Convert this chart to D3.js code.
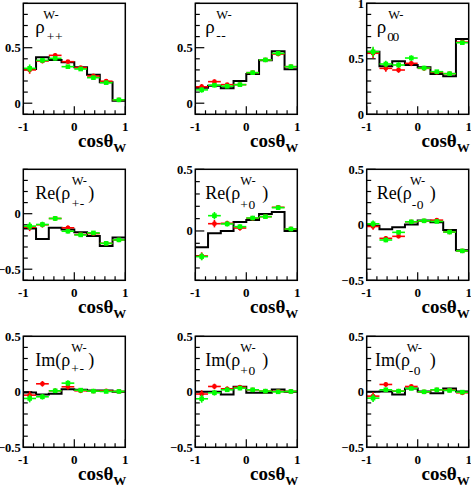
<!DOCTYPE html>
<html><head><meta charset="utf-8">
<script src="https://cdn.jsdelivr.net/npm/d3@7"></script>
<style>body{margin:0;background:#fff} svg{display:block}</style>
</head><body>
<script>
// ---------- data ----------
const binEdges   = [-1, -0.75, -0.5, -0.25, 0, 0.25, 0.5, 0.75, 1];
const binCenters = [-0.875, -0.625, -0.375, -0.125, 0.125, 0.375, 0.625, 0.875];
const xTickLabels = [-1, 0, 1];

// rho_{++}
const rhoPP_model = [0.308, 0.413, 0.389, 0.368, 0.323, 0.257, 0.189, 0.023];
const rhoPP_red   = [0.300, 0.380, 0.431, 0.374, 0.320, 0.245, 0.198, 0.030];
const rhoPP_green = [0.314, 0.386, 0.404, 0.329, 0.308, 0.230, 0.185, 0.030];
const rhoPP_err   = [0.035, 0.02, 0.02, 0.015, 0.015, 0.015, 0.015, 0.012];
// rho_{--}
const rhoMM_model = [0.140, 0.158, 0.135, 0.200, 0.263, 0.386, 0.467, 0.305];
const rhoMM_red   = [0.148, 0.194, 0.167, 0.167, 0.275, 0.390, 0.443, 0.329];
const rhoMM_green = [0.120, 0.162, 0.153, 0.167, 0.275, 0.390, 0.449, 0.329];
const rhoMM_err   = [0.025, 0.02, 0.015, 0.012, 0.012, 0.012, 0.012, 0.012];
// rho_{00}
const rho00_model = [0.564, 0.432, 0.477, 0.444, 0.423, 0.363, 0.342, 0.678];
const rho00_red   = [0.550, 0.414, 0.399, 0.459, 0.414, 0.378, 0.366, 0.650];
const rho00_green = [0.564, 0.453, 0.444, 0.507, 0.417, 0.384, 0.366, 0.645];
const rho00_err   = [0.045, 0.03, 0.025, 0.025, 0.02, 0.015, 0.012, 0.012];
// Re(rho_{+-})
const reRhoPM_model = [-0.134, -0.227, -0.127, -0.143, -0.167, -0.200, -0.291, -0.215];
const reRhoPM_red   = [-0.122, -0.100, -0.043, -0.127, -0.188, -0.179, -0.267, -0.236];
const reRhoPM_green = [-0.112, -0.097, -0.043, -0.158, -0.191, -0.173, -0.267, -0.236];
const reRhoPM_err   = [0.035, 0.025, 0.02, 0.02, 0.015, 0.012, 0.012, 0.01];
// Re(rho_{+0})
const reRhoP0_model = [-0.132, -0.019, 0.000, 0.073, 0.089, 0.138, 0.154, 0.000];
const reRhoP0_red   = [-0.203, 0.059, 0.062, 0.024, 0.103, 0.116, 0.192, 0.016];
const reRhoP0_green = [-0.208, 0.124, 0.057, 0.035, 0.105, 0.116, 0.189, 0.016];
const reRhoP0_err   = [0.03, 0.03, 0.02, 0.02, 0.015, 0.012, 0.012, 0.01];
// Re(rho_{-0})
const reRhoM0_model = [-0.009, -0.041, -0.021, 0.003, 0.039, 0.024, -0.047, -0.229];
const reRhoM0_red   = [-0.015, -0.122, -0.104, 0.027, 0.036, 0.042, -0.065, -0.235];
const reRhoM0_green = [0.009, -0.137, -0.068, 0.027, 0.036, 0.030, -0.065, -0.235];
const reRhoM0_err   = [0.03, 0.02, 0.015, 0.015, 0.012, 0.012, 0.01, 0.01];
// Im(rho_{+-})
const imRhoPM_model = [-0.006, -0.024, -0.018, 0.024, 0.018, 0.012, 0.012, 0.000];
const imRhoPM_red   = [-0.030, 0.072, 0.009, 0.045, 0.009, 0.006, 0.009, 0.003];
const imRhoPM_green = [-0.060, -0.045, 0.009, 0.078, 0.015, 0.006, 0.003, 0.003];
const imRhoPM_err   = [0.035, 0.025, 0.02, 0.025, 0.015, 0.012, 0.012, 0.01];
// Im(rho_{+0})
const imRhoP0_model = [0.000, 0.000, -0.025, 0.045, -0.008, -0.008, 0.020, 0.000];
const imRhoP0_red   = [-0.020, 0.048, 0.027, 0.042, 0.018, 0.006, 0.003, 0.003];
const imRhoP0_green = [-0.063, -0.009, 0.018, 0.033, 0.018, 0.006, 0.000, 0.003];
const imRhoP0_err   = [0.035, 0.025, 0.02, 0.02, 0.012, 0.01, 0.01, 0.01];
// Im(rho_{-0})
const imRhoM0_model = [0.000, 0.003, -0.024, 0.030, 0.003, -0.012, 0.030, 0.003];
const imRhoM0_red   = [-0.039, 0.066, 0.006, 0.048, 0.000, 0.018, 0.015, -0.009];
const imRhoM0_green = [-0.057, 0.018, 0.006, 0.030, 0.000, 0.018, 0.012, -0.003];
const imRhoM0_err   = [0.035, 0.02, 0.015, 0.015, 0.012, 0.01, 0.01, 0.01];

// y axis ranges and tick labels
const yDomains = [[-0.1,0.9],[-0.1,0.9],[0,1],[-0.6,0.4],[-0.4,0.5],[-0.5,0.5],[-0.5,0.5],[-0.5,0.5],[-0.5,0.5]];
const yTickLabels = [[0,0.5],[0,0.5],[0,0.5,1],[-0.5,0],[0,0.5],[-0.5,0,0.5],[-0.5,0,0.5],[-0.5,0,0.5],[-0.5,0,0.5]];

// title text pieces
const titleMain  = ["ρ","ρ","ρ","Re(ρ","Re(ρ","Re(ρ","Im(ρ","Im(ρ","Im(ρ"];
const titleSup   = ["W-","W-","W-","W-","W-","W-","W-","W-","W-"];
const titleSub   = ["++","--","00","+-","+0","-0","+-","+0","-0"];
const titleClose = ["","","",")",")",")",")",")",")"];

const models = [rhoPP_model, rhoMM_model, rho00_model, reRhoPM_model, reRhoP0_model, reRhoM0_model, imRhoPM_model, imRhoP0_model, imRhoM0_model];
const reds   = [rhoPP_red, rhoMM_red, rho00_red, reRhoPM_red, reRhoP0_red, reRhoM0_red, imRhoPM_red, imRhoP0_red, imRhoM0_red];
const greens = [rhoPP_green, rhoMM_green, rho00_green, reRhoPM_green, reRhoP0_green, reRhoM0_green, imRhoPM_green, imRhoP0_green, imRhoM0_green];
const errs   = [rhoPP_err, rhoMM_err, rho00_err, reRhoPM_err, reRhoP0_err, reRhoM0_err, imRhoPM_err, imRhoP0_err, imRhoM0_err];

// ---------- layout ----------
const colX = [23.3, 195.3, 366.7];
const rowY = [3.3, 169.3, 336.3];
const PW = 102, PH = 111;
const titlePos = [
  {mx:12, sx:20, bx:23.5, by:37.5, cx:0},
  {mx:10, sx:21, bx:21, by:37, cx:0},
  {mx:10, sx:21.5, bx:20.5, by:38, cx:0},
  {mx:12, sx:48.4, bx:48.4, by:39, cx:65},
  {mx:10, sx:45, bx:45, by:40, cx:67},
  {mx:10, sx:43.3, bx:45, by:40, cx:63},
  {mx:12, sx:48, bx:48, by:37, cx:65},
  {mx:10, sx:45, bx:45, by:39, cx:67},
  {mx:8.3, sx:40, bx:42, by:39, cx:63}
];
const serif = "'Liberation Serif','Times New Roman',serif";

const svg = d3.select("body").append("svg").attr("width",471).attr("height",487);

for (let i = 0; i < 9; i++) {
  const c = i % 3, r = Math.floor(i / 3);
  const g = svg.append("g").attr("transform", `translate(${colX[c]},${rowY[r]})`);
  const x = d3.scaleLinear().domain([-1,1]).range([0,PW]);
  const y = d3.scaleLinear().domain(yDomains[i]).range([PH,0]);

  // minor / major y ticks
  const [y0,y1] = yDomains[i];
  const minorY = d3.range(Math.round(y0*10), Math.round(y1*10)+1).map(v => v/10);
  g.selectAll(".ymt").data(minorY).enter().append("line")
    .attr("x1",0).attr("x2", d => yTickLabels[i].some(t => Math.abs(t-d)<1e-6) ? 9 : 4.5)
    .attr("y1", d => y(d)).attr("y2", d => y(d))
    .attr("stroke","#000").attr("stroke-width",1.2);
  g.selectAll(".ytl").data(yTickLabels[i]).enter().append("text")
    .attr("x",-2.6).attr("y", d => y(d)).attr("dy","0.35em")
    .attr("text-anchor","end").attr("font-family",serif).attr("font-weight","bold").attr("font-size",12.5)
    .text(d => d3.format("")(d));

  // x ticks
  const minorX = d3.range(-5, 6).map(v => v/5);
  g.selectAll(".xmt").data(minorX).enter().append("line")
    .attr("x1", d => x(d)).attr("x2", d => x(d))
    .attr("y1", PH).attr("y2", d => xTickLabels.some(t => Math.abs(t-d)<1e-6) ? PH-8 : PH-4)
    .attr("stroke","#000").attr("stroke-width",1.2);
  g.selectAll(".xtl").data(xTickLabels).enter().append("text")
    .attr("x", d => x(d)).attr("y", PH+16.5)
    .attr("text-anchor","middle").attr("font-family",serif).attr("font-weight","bold").attr("font-size",13)
    .text(d => d);

  // histogram (model)
  const hist = models[i];
  let p = d3.path();
  p.moveTo(x(binEdges[0]), y(hist[0]));
  hist.forEach((v,k) => {
    if (k>0) p.lineTo(x(binEdges[k]), y(v));
    p.lineTo(x(binEdges[k+1]), y(v));
  });
  g.append("path").attr("d", p.toString()).attr("fill","none").attr("stroke","#000").attr("stroke-width",2);

  // data points: red then green
  const drawSeries = (vals, color, shape) => {
    const sg = g.append("g");
    vals.forEach((v,k) => {
      const cx = x(binCenters[k]), cy = y(v), e = errs[i][k];
      sg.append("line").attr("x1", x(binEdges[k])).attr("x2", x(binEdges[k+1]))
        .attr("y1", cy).attr("y2", cy).attr("stroke",color).attr("stroke-width",1.6);
      sg.append("line").attr("x1", cx).attr("x2", cx)
        .attr("y1", y(v-e)).attr("y2", y(v+e)).attr("stroke",color).attr("stroke-width",1.6);
      if (shape === "circle") sg.append("circle").attr("cx",cx).attr("cy",cy).attr("r",2.4).attr("fill",color);
      else sg.append("rect").attr("x",cx-2.3).attr("y",cy-2.3).attr("width",4.6).attr("height",4.6).attr("fill",color);
    });
  };
  drawSeries(reds[i], "#ff0000", "circle");
  drawSeries(greens[i], "#00ff00", "square");

  // frame
  g.append("rect").attr("x",0).attr("y",0).attr("width",PW).attr("height",PH)
    .attr("fill","none").attr("stroke","#000").attr("stroke-width",1.5);

  // title
  const tp = titlePos[i];
  const mainSize = i < 3 ? 19 : 18;
  g.append("text").attr("x",tp.mx).attr("y",29.5).attr("font-family",serif).attr("font-size",mainSize).text(titleMain[i]);
  g.append("text").attr("x",tp.sx).attr("y",15.5).attr("font-family",serif).attr("font-size",12.5).text(titleSup[i]);
  g.append("text").attr("x",tp.bx).attr("y",tp.by).attr("font-family",serif).attr("font-size",13.5)
    .attr("letter-spacing", titleSub[i]==="00" ? -1.5 : 0.5).text(titleSub[i]);
  if (titleClose[i]) g.append("text").attr("x",tp.cx).attr("y",29.5).attr("font-family",serif).attr("font-size",mainSize).text(titleClose[i]);

  // x axis title
  const xt = g.append("text").attr("x",PW+1).attr("y",PH+32.5).attr("text-anchor","end")
    .attr("font-family",serif).attr("font-weight","bold").attr("font-size",19);
  xt.append("tspan").text("cosθ");
  xt.append("tspan").attr("font-size",13).attr("dy",5).text("W");
}
</script>
</body></html>
